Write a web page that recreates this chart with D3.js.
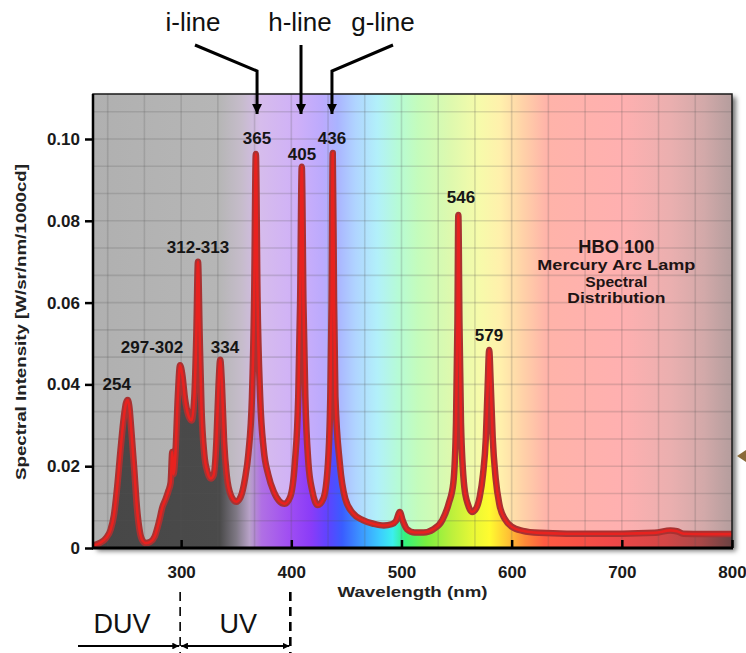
<!DOCTYPE html>
<html>
<head>
<meta charset="utf-8">
<script src="https://cdn.jsdelivr.net/npm/d3@7/dist/d3.min.js"></script>
<style>
  body { margin: 0; background: #fff; }
  svg { display: block; font-family: "Liberation Sans", Arial, sans-serif; }
</style>
</head>
<body>
<div id="hbo-spectrum"><svg></svg></div>
<script>
// spectrum samples (nm, W/sr/nm/1000cd)
const wavelengthNm = [
  220, 226, 232, 236, 239, 242, 245, 248, 250, 251.5, 253, 255, 257.5, 260, 262.5, 265, 268,
  272, 276, 280, 283, 286, 288.5, 290.5, 292, 293, 295, 297, 299, 301, 303.5, 306.5, 309.5,
  312, 313.8, 315.3, 316.8, 318.5, 321, 324, 327, 329.5, 332, 334, 335.5, 337, 339, 341.5,
  345, 350, 354, 358, 361, 364.3, 366.3, 367.8, 369.3, 371.7, 375, 379, 384, 389, 394, 399,
  403.2, 406.3, 408, 409.5, 411, 412.7, 415.5, 419, 424, 429, 433.3, 435.4, 436.6, 437.6,
  438.8, 440, 444, 449, 456, 465, 475, 484, 491, 495, 498.5, 501, 505, 512, 520, 529, 537,
  543, 547.1, 549.5, 550.8, 551.6, 552.6, 554, 557, 560.5, 564, 568, 571, 574, 576.6, 578.3,
  579.6, 581, 582.8, 585.5, 589, 594, 600, 610, 625, 650, 700, 730, 744, 750, 756, 775, 800
];
const intensity = [
  0.0006, 0.0012, 0.0025, 0.0045, 0.0080, 0.0150, 0.0240, 0.0320, 0.0355, 0.0362, 0.0345, 0.0280, 0.0190, 0.0095, 0.0040, 0.0018, 0.0012,
  0.0015, 0.0028, 0.0065, 0.0100, 0.0120, 0.0140, 0.0160, 0.0235, 0.0180, 0.0240, 0.0370, 0.0447, 0.0425, 0.0365, 0.0325, 0.0312,
  0.0370, 0.0520, 0.0700, 0.0520, 0.0340, 0.0230, 0.0185, 0.0170, 0.0178, 0.0260, 0.0400, 0.0460, 0.0400, 0.0260, 0.0175,
  0.0130, 0.0113, 0.0125, 0.0170, 0.0230, 0.0370, 0.0614, 0.0963, 0.0614, 0.0370, 0.0240, 0.0180, 0.0138, 0.0115, 0.0108, 0.0125,
  0.0208, 0.0370, 0.0600, 0.0932, 0.0600, 0.0370, 0.0208, 0.0140, 0.0105, 0.0120, 0.0208, 0.0370, 0.0600, 0.0966,
  0.0600, 0.0370, 0.0208, 0.0120, 0.0085, 0.0068, 0.0059, 0.0055, 0.0058, 0.0066, 0.0088, 0.0068, 0.0046, 0.0038, 0.0038, 0.0046, 0.0068,
  0.0110, 0.0160, 0.0306, 0.0550, 0.0814, 0.0550, 0.0306, 0.0150, 0.0105, 0.0088, 0.0098, 0.0125, 0.0180, 0.0270, 0.0400,
  0.0484, 0.0400, 0.0270, 0.0170, 0.0105, 0.0070, 0.0052, 0.0042, 0.0037, 0.0035, 0.0035, 0.0037, 0.0043, 0.0041, 0.0035, 0.0034, 0.0034
];

// peak labels: text, centre wavelength, baseline intensity
const peakLabels = ["254", "297-302", "312-313", "334", "365", "405", "436", "546", "579"];
const peakLabelNm = [241.5, 273.6, 315.3, 339.8, 368.9, 409.7, 436.9, 554, 579.4];
const peakLabelAt = [0.0386, 0.0477, 0.0721, 0.0477, 0.0988, 0.0949, 0.0988, 0.0843, 0.0506];

// lithography lines marked above the plot
const litLines = ["i-line", "h-line", "g-line"];
const litLineNm = [368.9, 408.8, 436.9];

const xTicks = [300, 400, 500, 600, 700, 800];
const yTicks = [0, 0.02, 0.04, 0.06, 0.08, 0.10];

const titleLines = ["HBO 100", "Mercury Arc Lamp", "Spectral", "Distribution"];

(function() {
    const width = 746;
    const height = 653;
    const plot = { left: 93, right: 732, top: 94, bottom: 548 };

    const svg = d3.select("#hbo-spectrum svg")
        .attr("width", width)
        .attr("height", height);

    const x = d3.scaleLinear().domain([220, 800]).range([plot.left, plot.right]);
    const y = d3.scaleLinear().domain([0, 0.111]).range([plot.bottom, plot.top]);

    const data = wavelengthNm.map((nm, i) => ({ nm: nm, v: intensity[i] }));

    const defs = svg.append("defs");

    // --- SPECTRUM GRADIENTS ---
    const paleStops = [
        [220, "#b0b0b0"], [335, "#b6b6b6"], [355, "#c6bccb"], [372, "#d6bcec"], [405, "#cfb0f8"],
        [428, "#bcaafd"], [442, "#aab4ff"], [458, "#b0d4ff"], [478, "#b2f0fa"], [497, "#b6fbd6"],
        [515, "#c4fcbc"], [545, "#def9ae"], [570, "#f6fbaa"], [590, "#fff0ac"], [610, "#ffd2a8"],
        [632, "#ffb3a9"], [700, "#ffb0b0"], [745, "#eaafaf"], [775, "#d2a9a9"], [800, "#b49d9d"]
    ];
    const deepStops = [
        [220, "#474747"], [335, "#4a4a4a"], [350, "#7e7884"], [362, "#b8a2c8"], [373, "#b070e4"],
        [398, "#a04ef2"], [418, "#8a3cf8"], [434, "#5c44ff"], [446, "#3a5cff"], [462, "#3c92ff"],
        [480, "#3ccbff"], [492, "#3cefee"], [503, "#34f27e"], [522, "#78f040"], [546, "#bdf03c"],
        [566, "#eaf836"], [580, "#fffb30"], [597, "#ffc234"], [612, "#ff8a38"], [630, "#ff5a42"],
        [690, "#f04848"], [740, "#d24646"], [772, "#a84848"], [800, "#6a4242"]
    ];

    function addGradient(id, stops) {
        const g = defs.append("linearGradient")
            .attr("id", id)
            .attr("gradientUnits", "userSpaceOnUse")
            .attr("x1", x(220)).attr("x2", x(800))
            .attr("y1", 0).attr("y2", 0);
        g.selectAll("stop")
            .data(stops)
            .join("stop")
            .attr("offset", d => (x(d[0]) - x(220)) / (x(800) - x(220)))
            .attr("stop-color", d => d[1]);
    }
    addGradient("pale-spectrum", paleStops);
    addGradient("deep-spectrum", deepStops);

    const shadow = defs.append("filter").attr("id", "frame-shadow")
        .attr("x", "-5%").attr("y", "-5%").attr("width", "115%").attr("height", "115%");
    shadow.append("feDropShadow")
        .attr("dx", 4).attr("dy", 3).attr("stdDeviation", 2.5)
        .attr("flood-color", "#000").attr("flood-opacity", 0.55);

    defs.append("marker")
        .attr("id", "arrow-head")
        .attr("viewBox", "0 0 10 10")
        .attr("refX", 10).attr("refY", 5)
        .attr("markerWidth", 3.4).attr("markerHeight", 3.4)
        .attr("markerUnits", "strokeWidth")
        .attr("orient", "auto-start-reverse")
        .append("path")
        .attr("d", "M0,0 L10,5 L0,10 Z")
        .attr("fill", "#000");

    // --- BACKGROUND ---
    svg.append("rect")
        .attr("x", plot.left).attr("y", plot.top)
        .attr("width", plot.right - plot.left).attr("height", plot.bottom - plot.top)
        .attr("fill", "url(#pale-spectrum)")
        .attr("filter", "url(#frame-shadow)");

    const curve = d3.curveMonotoneX;

    svg.append("path")
        .datum(data)
        .attr("fill", "url(#deep-spectrum)")
        .attr("d", d3.area().x(d => x(d.nm)).y0(y(0)).y1(d => y(d.v)).curve(curve));

    // --- GRID ---
    const gridX = d3.range(1, 18).map(i => 200 + i * 100 / 3).filter(v => v > 221 && v < 799);
    const gridY = d3.range(1, 17).map(i => i * 0.02 / 3);

    const grid = svg.append("g").attr("stroke", "#555").attr("stroke-opacity", 0.2).attr("stroke-width", 1.6);
    grid.selectAll(".gx").data(gridX).join("line")
        .attr("x1", d => x(d)).attr("x2", d => x(d))
        .attr("y1", plot.top).attr("y2", plot.bottom);
    grid.selectAll(".gy").data(gridY).join("line")
        .attr("x1", plot.left).attr("x2", plot.right)
        .attr("y1", d => y(d)).attr("y2", d => y(d));

    // --- CURVE ---
    const line = d3.line().x(d => x(d.nm)).y(d => y(d.v)).curve(curve);
    svg.append("path").datum(data)
        .attr("fill", "none").attr("stroke", "#a83232").attr("stroke-width", 6.5)
        .attr("stroke-linejoin", "round").attr("d", line);
    svg.append("path").datum(data)
        .attr("fill", "none").attr("stroke", "#e8221f").attr("stroke-width", 2.6)
        .attr("stroke-linejoin", "round").attr("d", line);

    // --- FRAME & AXES ---
    svg.append("rect")
        .attr("x", plot.left).attr("y", plot.top)
        .attr("width", plot.right - plot.left).attr("height", plot.bottom - plot.top)
        .attr("fill", "none").attr("stroke", "#1a1a1a").attr("stroke-width", 1.5);
    svg.append("line")
        .attr("x1", plot.left).attr("x2", plot.left)
        .attr("y1", plot.top).attr("y2", plot.bottom)
        .attr("stroke", "#000").attr("stroke-width", 2.5);
    svg.append("line")
        .attr("x1", plot.left - 1).attr("x2", plot.right + 1)
        .attr("y1", plot.bottom).attr("y2", plot.bottom)
        .attr("stroke", "#000").attr("stroke-width", 3);

    const xAxis = svg.append("g")
        .attr("transform", `translate(0,${plot.bottom})`)
        .call(d3.axisBottom(x).tickValues(xTicks).tickSizeInner(-8).tickSizeOuter(0).tickPadding(18));
    xAxis.select(".domain").remove();
    xAxis.selectAll(".tick line").attr("stroke", "#000").attr("stroke-width", 2.5);
    xAxis.selectAll(".tick text")
        .attr("fill", "#1a1a1a").attr("font-size", 17).attr("font-weight", "bold")
        .attr("font-family", "Liberation Sans, Arial, sans-serif");

    const yAxis = svg.append("g")
        .attr("transform", `translate(${plot.left},0)`)
        .call(d3.axisLeft(y).tickValues(yTicks).tickSize(8).tickPadding(5)
            .tickFormat(d => d === 0 ? "0" : d3.format(".2f")(d)));
    yAxis.select(".domain").remove();
    yAxis.selectAll(".tick line").attr("stroke", "#000").attr("stroke-width", 2.5);
    yAxis.selectAll(".tick text")
        .attr("fill", "#1a1a1a").attr("font-size", 17).attr("font-weight", "bold")
        .attr("font-family", "Liberation Sans, Arial, sans-serif");

    svg.append("text")
        .attr("transform", `translate(26,${(plot.top + plot.bottom) / 2 + 1}) rotate(-90)`)
        .attr("text-anchor", "middle")
        .attr("font-size", 15).attr("font-weight", "bold").attr("fill", "#222")
        .attr("textLength", 316).attr("lengthAdjust", "spacingAndGlyphs")
        .text("Spectral Intensity [W/sr/nm/1000cd]");

    svg.append("text")
        .attr("x", x(510)).attr("y", 597)
        .attr("text-anchor", "middle")
        .attr("font-size", 15).attr("font-weight", "bold").attr("fill", "#222")
        .attr("textLength", 150).attr("lengthAdjust", "spacingAndGlyphs")
        .text("Wavelength (nm)");

    // --- PEAK LABELS ---
    svg.append("g").selectAll("text")
        .data(peakLabels)
        .join("text")
        .attr("x", (d, i) => x(peakLabelNm[i]))
        .attr("y", (d, i) => y(peakLabelAt[i]))
        .attr("text-anchor", "middle")
        .attr("font-size", 17).attr("font-weight", "bold").attr("fill", "#151515")
        .text(d => d);

    // --- TITLE ---
    const titleX = x(695);
    const titleWidths = [76, 158, 62, 98];
    svg.append("g").selectAll("text")
        .data(titleLines)
        .join("text")
        .attr("x", titleX)
        .attr("y", (d, i) => [253, 270, 287, 303][i])
        .attr("text-anchor", "middle")
        .attr("font-size", (d, i) => i === 0 ? 18 : 15)
        .attr("textLength", (d, i) => titleWidths[i])
        .attr("lengthAdjust", "spacingAndGlyphs")
        .attr("font-weight", "bold").attr("fill", "#1e1414")
        .text(d => d);

    // --- i / h / g LINE ARROWS ---
    const textCx = [193, 300, 383];
    const startDx = [2, 0, 10];
    const ann = svg.append("g");
    litLines.forEach((name, i) => {
        const tx = x(litLineNm[i]);
        ann.append("text")
            .attr("x", textCx[i]).attr("y", 31)
            .attr("text-anchor", "middle")
            .attr("font-size", 26).attr("fill", "#111")
            .text(name);
        const sx = textCx[i] + startDx[i];
        const pts = Math.abs(sx - tx) < 2
            ? [[tx, 45], [tx, 114]]
            : [[sx, 45], [tx, 71], [tx, 114]];
        ann.append("path")
            .attr("d", d3.line()(pts))
            .attr("fill", "none").attr("stroke", "#000").attr("stroke-width", 3)
            .attr("stroke-linejoin", "miter")
            .attr("marker-end", "url(#arrow-head)");
    });

    // --- DUV / UV BANDS ---
    const band = svg.append("g");
    [300, 400].forEach((nm, i) => {
        band.append("line")
            .attr("x1", x(nm) - 1).attr("x2", x(nm) - 1)
            .attr("y1", 592).attr("y2", 653)
            .attr("stroke", "#000").attr("stroke-width", i === 0 ? 1.6 : 2.6)
            .attr("stroke-dasharray", "9,6");
    });
    band.append("line")
        .attr("x1", 78).attr("x2", x(300) - 2)
        .attr("y1", 646).attr("y2", 646)
        .attr("stroke", "#000").attr("stroke-width", 2)
        .attr("marker-end", "url(#arrow-head)");
    band.append("line")
        .attr("x1", x(300)).attr("x2", x(400) - 2)
        .attr("y1", 646).attr("y2", 646)
        .attr("stroke", "#000").attr("stroke-width", 2)
        .attr("marker-start", "url(#arrow-head)")
        .attr("marker-end", "url(#arrow-head)");
    band.append("text")
        .attr("x", 122).attr("y", 633)
        .attr("text-anchor", "middle").attr("font-size", 27).attr("fill", "#111")
        .text("DUV");
    band.append("text")
        .attr("x", (x(300) + x(400)) / 2 + 2).attr("y", 633)
        .attr("text-anchor", "middle").attr("font-size", 27).attr("fill", "#111")
        .text("UV");

    // clipped pointer at the right edge
    svg.append("path")
        .attr("d", "M737,456 L746,450 L746,462 Z")
        .attr("fill", "#8a6a3a");
})();
</script>
</body>
</html>
